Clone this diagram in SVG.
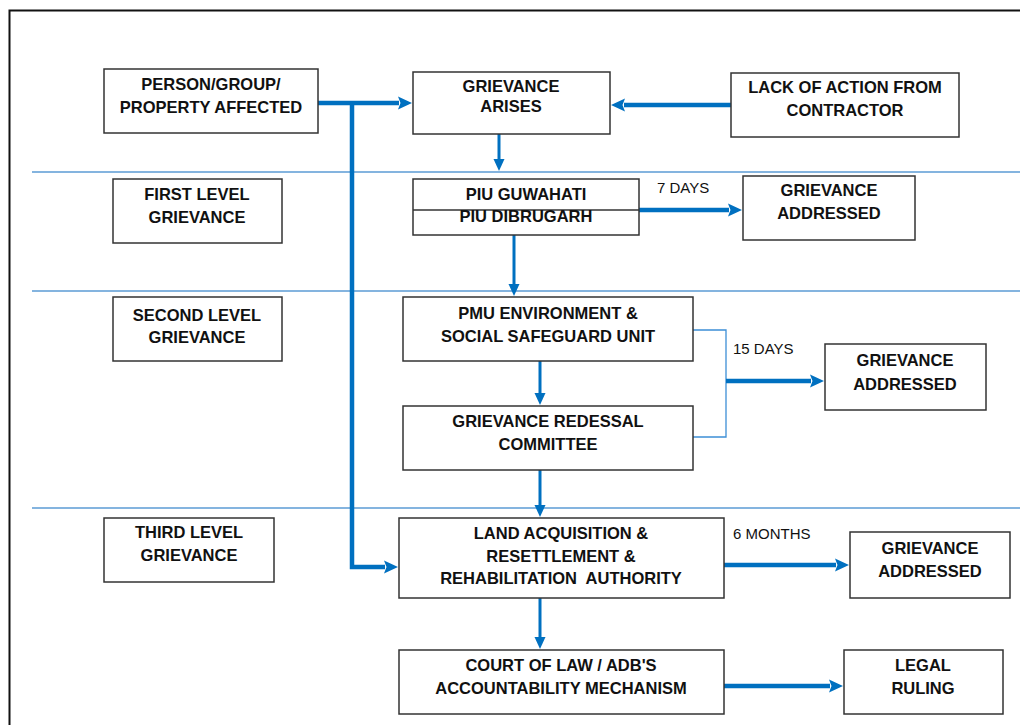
<svg xmlns="http://www.w3.org/2000/svg" width="1020" height="725" viewBox="0 0 1020 725">
<style>
.box{fill:#fff;stroke:#333;stroke-width:1.5}
.t{font-family:"Liberation Sans",Arial,sans-serif;font-weight:bold;font-size:16.5px;fill:#111;text-anchor:middle;white-space:pre}
.lbl{font-family:"Liberation Sans",Arial,sans-serif;font-size:15px;fill:#111}
.thick{fill:none;stroke:#0070c0;stroke-width:4.5}
.thin{fill:none;stroke:#0070c0;stroke-width:3}
.br{fill:none;stroke:#3d8fd6;stroke-width:1.3}
.div{stroke:#5b9bd5;stroke-width:1.5}
</style>
<defs>
<marker id="ah" markerUnits="userSpaceOnUse" markerWidth="15" markerHeight="15" refX="1" refY="7.5" orient="auto"><path d="M0,1 L14,7.5 L0,14 L2.5,7.5 z" fill="#0070c0"/></marker>
<marker id="av" markerUnits="userSpaceOnUse" markerWidth="14" markerHeight="12" refX="1" refY="6" orient="auto"><path d="M0,0.5 L12,6 L0,11.5 z" fill="#0070c0"/></marker>
</defs>
<rect width="1020" height="725" fill="#fff"/>
<rect x="9.5" y="10.5" width="1100" height="800" fill="none" stroke="#111" stroke-width="2"/>
<g id="dividers">
<line class="div" x1="32" y1="172" x2="1020" y2="172"/>
<line class="div" x1="32" y1="291" x2="1020" y2="291"/>
<line class="div" x1="32" y1="508" x2="1020" y2="508"/>
</g>
<g id="connectors">
<path class="thick" d="M318,103 H399" marker-end="url(#ah)"/>
<path class="thick" d="M352,103 V567 H385" marker-end="url(#ah)"/>
<path class="thick" d="M731,105 H624" marker-end="url(#ah)"/>
<path class="thin" d="M499,134 V160" marker-end="url(#av)"/>
<path class="thick" d="M639,210 H729" marker-end="url(#ah)"/>
<path class="thin" d="M514,235 V285" marker-end="url(#av)"/>
<path class="thin" d="M540,361 V394" marker-end="url(#av)"/>
<path class="br" d="M693,330 H726 V437 H693"/>
<path class="thick" d="M726,381 H811" marker-end="url(#ah)"/>
<path class="thin" d="M540,470 V506" marker-end="url(#av)"/>
<path class="thick" d="M724,565 H836" marker-end="url(#ah)"/>
<path class="thin" d="M540,598 V638" marker-end="url(#av)"/>
<path class="thick" d="M724,686 H830" marker-end="url(#ah)"/>
<text class="lbl" x="657" y="193">7 DAYS</text>
<text class="lbl" x="733" y="354">15 DAYS</text>
<text class="lbl" x="733" y="539">6 MONTHS</text>
</g>
<g id="person"><rect class="box" x="104" y="69" width="214" height="64"/><text class="t" x="211" y="90">PERSON/GROUP/</text><text class="t" x="211" y="113">PROPERTY AFFECTED</text></g>
<g id="arises"><rect class="box" x="413" y="72" width="197" height="62"/><text class="t" x="511" y="92">GRIEVANCE</text><text class="t" x="511" y="112">ARISES</text></g>
<g id="lack"><rect class="box" x="731" y="73" width="228" height="64"/><text class="t" x="845" y="93">LACK OF ACTION FROM</text><text class="t" x="845" y="116">CONTRACTOR</text></g>
<g id="first"><rect class="box" x="113" y="179" width="169" height="64"/><text class="t" x="197" y="200">FIRST LEVEL</text><text class="t" x="197" y="223">GRIEVANCE</text></g>
<g id="piu"><rect class="box" x="413" y="179" width="226" height="56"/><line x1="413" y1="210" x2="639" y2="210" stroke="#333" stroke-width="1.5"/><text class="t" x="526" y="200">PIU GUWAHATI</text><text class="t" x="526" y="222">PIU DIBRUGARH</text></g>
<g id="addressed1"><rect class="box" x="743" y="176" width="172" height="64"/><text class="t" x="829" y="196">GRIEVANCE</text><text class="t" x="829" y="219">ADDRESSED</text></g>
<g id="second"><rect class="box" x="113" y="297" width="169" height="64"/><text class="t" x="197" y="321">SECOND LEVEL</text><text class="t" x="197" y="343">GRIEVANCE</text></g>
<g id="pmu"><rect class="box" x="403" y="297" width="290" height="64"/><text class="t" x="548" y="319">PMU ENVIRONMENT &amp;</text><text class="t" x="548" y="342">SOCIAL SAFEGUARD UNIT</text></g>
<g id="grc"><rect class="box" x="403" y="406" width="290" height="64"/><text class="t" x="548" y="427">GRIEVANCE REDESSAL</text><text class="t" x="548" y="450">COMMITTEE</text></g>
<g id="addressed2"><rect class="box" x="825" y="344" width="161" height="66"/><text class="t" x="905" y="366">GRIEVANCE</text><text class="t" x="905" y="390">ADDRESSED</text></g>
<g id="third"><rect class="box" x="104" y="518" width="170" height="64"/><text class="t" x="189" y="538">THIRD LEVEL</text><text class="t" x="189" y="561">GRIEVANCE</text></g>
<g id="larra"><rect class="box" x="399" y="518" width="325" height="80"/><text class="t" x="561" y="539">LAND ACQUISITION &amp;</text><text class="t" x="561" y="562">RESETTLEMENT &amp;</text><text class="t" x="561" y="584">REHABILITATION  AUTHORITY</text></g>
<g id="addressed3"><rect class="box" x="850" y="532" width="160" height="66"/><text class="t" x="930" y="554">GRIEVANCE</text><text class="t" x="930" y="577">ADDRESSED</text></g>
<g id="court"><rect class="box" x="399" y="650" width="325" height="64"/><text class="t" x="561" y="671">COURT OF LAW / ADB'S</text><text class="t" x="561" y="694">ACCOUNTABILITY MECHANISM</text></g>
<g id="legal"><rect class="box" x="844" y="650" width="159" height="64"/><text class="t" x="923" y="671">LEGAL</text><text class="t" x="923" y="694">RULING</text></g>
</svg>
